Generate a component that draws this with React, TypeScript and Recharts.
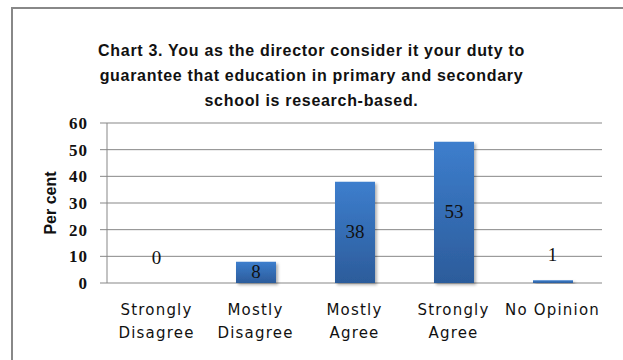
import React from 'react';
import {
  ComposedChart,
  Bar,
  Line,
  XAxis,
  YAxis,
  CartesianGrid,
  LabelList,
} from 'recharts';

const categories = ['Strongly Disagree', 'Mostly Disagree', 'Mostly Agree', 'Strongly Agree', 'No Opinion'];
const tickLines = [
  ['Strongly', 'Disagree'],
  ['Mostly', 'Disagree'],
  ['Mostly', 'Agree'],
  ['Strongly', 'Agree'],
  ['No Opinion'],
];
const percents = [0, 8, 38, 53, 1];
const yTicks = [0, 10, 20, 30, 40, 50, 60];
const edgeTicks = [0, 1, 2, 3, 4, 5];
const titleLines = [
  'Chart 3. You as the director consider it your duty to',
  'guarantee that education in primary and secondary',
  'school is research-based.',
];

const data = categories.map((name, i) => ({ name, value: percents[i] }));

const GRID = '#878787';
const SMALL = 5;

function CategoryTick({ x, payload }: any) {
  const lines = tickLines[payload.index] || [payload.value];
  return (
    <g>
      {lines.map((line: string, i: number) => (
        <text
          key={i}
          x={x}
          y={315 + i * 23}
          textAnchor="middle"
          fontFamily="DejaVu Sans"
          fontSize={15}
          letterSpacing={1.2}
          fill="#111"
        >
          {line}
        </text>
      ))}
    </g>
  );
}

// label centred inside the bar (large values)
function InsideLabel({ x, y, width, height, value }: any) {
  if (value < SMALL) return null;
  return (
    <text
      x={x + width / 2}
      y={y + height / 2}
      dy={6}
      textAnchor="middle"
      fontFamily="Liberation Serif"
      fontSize={19}
      fill="#111"
    >
      {value}
    </text>
  );
}

// label above the point (small values)
function AboveLabel({ x, y, value }: any) {
  if (value >= SMALL) return null;
  return (
    <text
      x={x}
      y={y - 19}
      textAnchor="middle"
      fontFamily="Liberation Serif"
      fontSize={19}
      fill="#111"
    >
      {value}
    </text>
  );
}

export default function App() {
  return (
    <div
      style={{
        position: 'absolute',
        left: 0,
        top: 0,
        width: 623,
        height: 360,
        background: '#fff',
        overflow: 'hidden',
      }}
    >
      <div
        style={{
          position: 'absolute',
          left: 11,
          top: 7,
          width: 640,
          height: 380,
          borderTop: '2px solid #888',
          borderLeft: '2px solid #888',
        }}
      />
      <div
        style={{
          position: 'absolute',
          left: 0,
          top: 38,
          width: 623,
          textAlign: 'center',
          fontFamily: 'Liberation Sans',
          fontWeight: 'bold',
          fontSize: 16,
          letterSpacing: 0.7,
          lineHeight: '25px',
          color: '#111',
        }}
      >
        {titleLines.map((t, i) => (
          <div key={i}>{t}</div>
        ))}
      </div>
      <div style={{ position: 'absolute', left: 0, top: 0 }}>
        <ComposedChart
          width={623}
          height={360}
          data={data}
          margin={{ top: 123, right: 21, bottom: 76, left: 0 }}
          barSize={40}
        >
          <defs>
            <linearGradient id="barFill" x1="0" y1="0" x2="0" y2="1">
              <stop offset="0%" stopColor="#3d7ecd" />
              <stop offset="100%" stopColor="#2c5c9b" />
            </linearGradient>
            <filter id="barShadow" x="-20%" y="-20%" width="150%" height="150%">
              <feDropShadow dx="2" dy="2" stdDeviation="1.5" floodColor="#000" floodOpacity="0.3" />
            </filter>
          </defs>
          <CartesianGrid vertical={false} stroke={GRID} strokeWidth={1} />
          <XAxis
            xAxisId="edges"
            type="number"
            domain={[0, 5]}
            ticks={edgeTicks}
            interval={0}
            tick={() => <g />}
            tickSize={7}
            tickLine={{ stroke: GRID }}
            axisLine={{ stroke: GRID }}
            allowDataOverflow
            height={0}
          />
          <XAxis
            dataKey="name"
            xAxisId="cat"
            axisLine={false}
            tickLine={false}
            tick={<CategoryTick />}
            interval={0}
            height={1}
          />
          <YAxis
            width={107}
            domain={[0, 60]}
            ticks={yTicks}
            interval={0}
            tickSize={7}
            tickMargin={12}
            axisLine={{ stroke: GRID }}
            tickLine={{ stroke: GRID }}
            tick={{
              fontFamily: 'Liberation Serif',
              fontWeight: 'bold',
              fontSize: 17,
              fill: '#111',
              letterSpacing: 1,
            }}
            label={{
              content: () => (
                <text
                  x={56}
                  y={203}
                  transform="rotate(-90, 56, 203)"
                  textAnchor="middle"
                  fontFamily="Liberation Sans"
                  fontWeight="bold"
                  fontSize={16}
                  fill="#111"
                >
                  Per cent
                </text>
              ),
            }}
          />
          <Bar
            dataKey="value"
            xAxisId="cat"
            fill="url(#barFill)"
            filter="url(#barShadow)"
            isAnimationActive={false}
          >
            <LabelList dataKey="value" content={<InsideLabel />} />
          </Bar>
          <Line
            dataKey="value"
            xAxisId="cat"
            stroke="none"
            dot={false}
            activeDot={false}
            isAnimationActive={false}
          >
            <LabelList dataKey="value" content={<AboveLabel />} />
          </Line>
        </ComposedChart>
      </div>
    </div>
  );
}
